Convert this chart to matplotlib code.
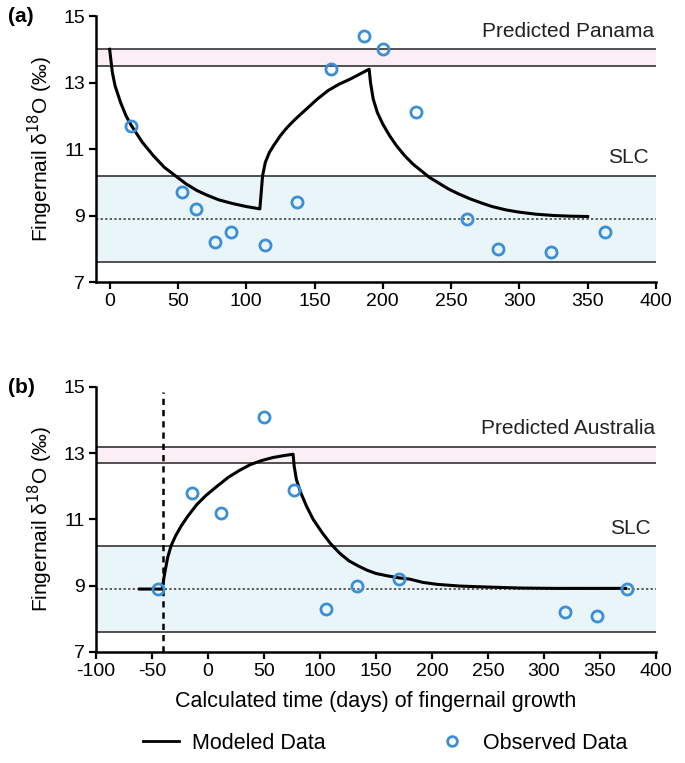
import matplotlib
matplotlib.use("Agg")
import matplotlib.pyplot as plt
from matplotlib.lines import Line2D

plt.rcParams['font.family'] = ['Liberation Sans', 'DejaVu Sans']
plt.rcParams['axes.unicode_minus'] = False

# Panel (a) data
a_model_x = [0, 2, 4, 8, 12, 16, 24, 32, 40, 48, 56, 64, 72, 80, 90, 100, 110,
             111, 112, 114, 117, 120, 125, 130, 136, 144, 152, 160, 168, 176, 183, 190,
             191, 193, 196, 200, 205, 210, 216, 222, 228, 234, 240, 248, 256, 264, 272,
             280, 290, 300, 312, 325, 337, 350]
a_model_y = [14.0, 13.3, 12.9, 12.4, 12.0, 11.7, 11.2, 10.8, 10.45, 10.2, 9.95, 9.75, 9.6,
             9.47, 9.36, 9.27, 9.2,
             9.7, 10.2, 10.6, 10.9, 11.1, 11.4, 11.65, 11.9, 12.2, 12.5, 12.76, 12.95, 13.1,
             13.25, 13.4,
             13.0, 12.5, 12.1, 11.75, 11.4, 11.1, 10.8, 10.55, 10.35, 10.15, 10.0, 9.8, 9.64,
             9.5, 9.38, 9.27, 9.17, 9.1, 9.04, 9.0, 8.98, 8.97]
a_obs_x = [16, 53, 63, 77, 89, 114, 137, 162, 186, 200, 224, 262, 284, 323, 363]
a_obs_y = [11.7, 9.7, 9.2, 8.2, 8.5, 8.1, 9.4, 13.4, 14.4, 14.0, 12.1, 8.9, 8.0, 7.9, 8.5]

# Panel (b) data
b_model_x = [-61, -41, -40, -38.5, -36, -33, -29, -24, -18, -10, -2, 8, 18, 28, 38, 48, 58,
             68, 76, 77, 79, 83, 88, 94, 102, 110, 118, 126, 134, 142, 150, 160, 170, 180,
             192, 205, 225, 250, 280, 310, 340, 373]
b_model_y = [8.9, 8.9, 9.1, 9.4, 9.85, 10.2, 10.5, 10.8, 11.1, 11.45, 11.72, 12.0, 12.27,
             12.48, 12.66, 12.78, 12.87, 12.93, 12.97, 12.6, 12.2, 11.8, 11.4, 11.0, 10.6,
             10.25, 9.97, 9.75, 9.6, 9.47, 9.37, 9.3, 9.24, 9.2, 9.1, 9.04, 8.99, 8.96, 8.93,
             8.92, 8.92, 8.92]
b_obs_x = [-45, -14, 12, 50, 77, 105, 133, 171, 319, 347, 374]
b_obs_y = [8.9, 11.8, 11.2, 14.1, 11.9, 8.3, 9.0, 9.2, 8.2, 8.1, 8.9]

# Reference bands
slc_low, slc_high, slc_mid = 7.6, 10.2, 8.9
panama_low, panama_high = 13.5, 14.0
aus_low, aus_high = 12.7, 13.2
event_x = -40

obs_color = '#3a8fd6'
blue_fill = '#eaf5f9'
pink_fill = '#fbeef4'
band_line = '#333333'

fig = plt.figure(figsize=(6.85, 7.63), dpi=100)
axa = fig.add_axes([0.1401, 0.6304, 0.8175, 0.3486])
axb = fig.add_axes([0.1401, 0.1455, 0.8175, 0.3473])


def style(ax, xmin, xticks):
    ax.set_xlim(xmin, 400)
    ax.set_ylim(7, 15)
    ax.set_xticks(xticks)
    ax.set_yticks([7, 9, 11, 13, 15])
    for s in ['top', 'right']:
        ax.spines[s].set_visible(False)
    for s in ['left', 'bottom']:
        ax.spines[s].set_linewidth(1.8)
    ax.tick_params(direction='out', length=5, width=1.6, labelsize=14, pad=3)
    ax.set_ylabel('Fingernail δ$^{18}$O (‰)', fontsize=15, labelpad=6)


def bands(ax, xmin, plow, phigh, label):
    ax.axhspan(plow, phigh, xmin=0, xmax=1, color=pink_fill, lw=0, zorder=0)
    ax.axhspan(slc_low, slc_high, xmin=0, xmax=1, color=blue_fill, lw=0, zorder=0)
    for yv in [plow, phigh, slc_low, slc_high]:
        ax.plot([xmin, 400], [yv, yv], color=band_line, lw=1.2, zorder=1)
    ax.plot([xmin, 400], [slc_mid, slc_mid], color=band_line, lw=1.1, ls=(0, (1.5, 1.5)), zorder=1)
    ax.text(399, phigh + 0.25, label, ha='right', va='bottom', fontsize=15, color='#222222')
    ax.text(395, slc_high + 0.25, 'SLC', ha='right', va='bottom', fontsize=15, color='#222222')


# Panel a
style(axa, -10, [0, 50, 100, 150, 200, 250, 300, 350, 400])
bands(axa, -10, panama_low, panama_high, 'Predicted Panama')
axa.plot(a_model_x, a_model_y, color='black', lw=2.2, zorder=3)
axa.plot(a_obs_x, a_obs_y, ls='none', marker='o', ms=8, mfc='none', mec=obs_color, mew=2, zorder=4)
fig.text(0.012, 0.978, '(a)', fontsize=15, fontweight='bold', va='center', ha='left')

# Panel b
style(axb, -100, [-100, -50, 0, 50, 100, 150, 200, 250, 300, 350, 400])
bands(axb, -100, aus_low, aus_high, 'Predicted Australia')
axb.plot([event_x, event_x], [7, 14.85], color='black', lw=1.8, ls=(0, (2.5, 2)), zorder=2)
axb.plot(b_model_x, b_model_y, color='black', lw=2.2, zorder=3)
axb.plot(b_obs_x, b_obs_y, ls='none', marker='o', ms=8, mfc='none', mec=obs_color, mew=2, zorder=4)
axb.set_xlabel('Calculated time (days) of fingernail growth', fontsize=15.5, labelpad=8)
fig.text(0.012, 0.492, '(b)', fontsize=15, fontweight='bold', va='center', ha='left')

# Legend
handles = [Line2D([], [], color='black', lw=2),
           Line2D([], [], ls='none', marker='o', ms=7, mfc='none', mec=obs_color, mew=2)]
fig.legend(handles, ['Modeled Data', 'Observed Data'], loc='center', bbox_to_anchor=(0.562, 0.026),
           ncol=2, frameon=False, fontsize=15.5, columnspacing=5.0, handlelength=1.7, handletextpad=0.6)

fig.savefig('out.png', dpi=100)
